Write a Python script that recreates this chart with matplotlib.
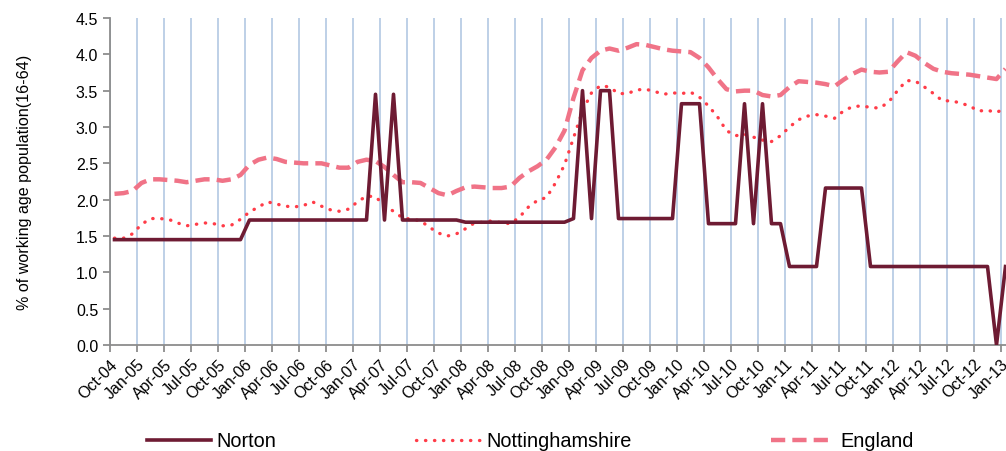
import numpy as np
import matplotlib
matplotlib.use('Agg')
import matplotlib.pyplot as plt

plt.rcParams['font.family'] = ['Liberation Sans', 'DejaVu Sans']

# monthly values, first point is the month after Oct-04 tick
norton = ([1.45] * 15 + [1.72] * 14 + [3.45, 1.72, 3.45] + [1.72] * 7 + [1.69] * 12
          + [1.74, 3.50, 1.74, 3.50, 3.50] + [1.74] * 7 + [3.32] * 3 + [1.67] * 4
          + [3.32, 1.67, 3.32, 1.67, 1.67] + [1.08] * 4 + [2.16] * 5 + [1.08] * 14
          + [0.0, 1.08])

notts = [1.47, 1.47, 1.53, 1.66, 1.74, 1.74, 1.73, 1.68, 1.64, 1.66,
         1.68, 1.67, 1.64, 1.65, 1.73, 1.83, 1.90, 1.97, 1.94, 1.91,
         1.90, 1.92, 1.97, 1.91, 1.86, 1.84, 1.87, 1.97, 2.05, 2.04,
         1.92, 1.84, 1.75, 1.73, 1.71, 1.62, 1.54, 1.50, 1.53, 1.60,
         1.68, 1.69, 1.71, 1.68, 1.67, 1.76, 1.90, 1.99, 2.03, 2.23,
         2.48, 2.85, 3.22, 3.47, 3.57, 3.55, 3.46, 3.46, 3.51, 3.52,
         3.49, 3.45, 3.47, 3.46, 3.48, 3.41, 3.29, 3.14, 2.95, 2.88,
         2.90, 2.86, 2.82, 2.80, 2.88, 3.00, 3.10, 3.15, 3.17, 3.15,
         3.12, 3.22, 3.28, 3.29, 3.27, 3.26, 3.34, 3.50, 3.64, 3.63,
         3.55, 3.46, 3.36, 3.36, 3.33, 3.29, 3.22, 3.23, 3.20, 3.26]

england = [2.08, 2.09, 2.12, 2.23, 2.28, 2.28, 2.27, 2.26, 2.24, 2.26,
           2.28, 2.28, 2.26, 2.28, 2.34, 2.48, 2.55, 2.58, 2.56, 2.52,
           2.51, 2.50, 2.50, 2.50, 2.47, 2.44, 2.44, 2.52, 2.55, 2.53,
           2.45, 2.34, 2.24, 2.24, 2.23, 2.16, 2.09, 2.06, 2.12, 2.17,
           2.18, 2.17, 2.16, 2.16, 2.18, 2.30, 2.39, 2.46, 2.55, 2.72,
           2.95, 3.40, 3.78, 3.95, 4.05, 4.08, 4.05, 4.09, 4.14, 4.13,
           4.10, 4.07, 4.05, 4.04, 4.03, 3.95, 3.82, 3.66, 3.52, 3.49,
           3.50, 3.50, 3.44, 3.42, 3.44, 3.55, 3.63, 3.62, 3.61, 3.59,
           3.56, 3.65, 3.73, 3.79, 3.76, 3.75, 3.76, 3.90, 4.03, 3.98,
           3.88, 3.80, 3.76, 3.74, 3.73, 3.72, 3.70, 3.68, 3.66, 3.80]

tick_labels = ['Oct-04', 'Jan-05', 'Apr-05', 'Jul-05', 'Oct-05', 'Jan-06', 'Apr-06',
               'Jul-06', 'Oct-06', 'Jan-07', 'Apr-07', 'Jul-07', 'Oct-07', 'Jan-08',
               'Apr-08', 'Jul-08', 'Oct-08', 'Jan-09', 'Apr-09', 'Jul-09', 'Oct-09',
               'Jan-10', 'Apr-10', 'Jul-10', 'Oct-10', 'Jan-11', 'Apr-11', 'Jul-11',
               'Oct-11', 'Jan-12', 'Apr-12', 'Jul-12', 'Oct-12', 'Jan-13']

x = np.arange(len(norton))
ticks = np.arange(len(tick_labels)) * 3 - 0.5

fig = plt.figure(figsize=(10.06, 4.52), dpi=100)
ax = fig.add_axes([110 / 1006, 1 - 346 / 452, 900 / 1006, 327 / 452])

l3, = ax.plot(x, england, color='#F07387', lw=3.2, ls=(0, (3.2, 1.6)),
              label='England', zorder=3)
l2, = ax.plot(x, notts, color='#FF3C48', lw=2.4, ls=(0, (0.1, 2.6)),
              dash_capstyle='round', label='Nottinghamshire', zorder=4)
l1, = ax.plot(x, norton, color='#6E1B33', lw=2.6, label='Norton', zorder=5)

ax.set_xlim(-0.5, 99.5)
ax.set_ylim(0, 4.5)
ax.set_yticks(np.arange(0, 4.51, 0.5))
ax.set_yticklabels(['%.1f' % v for v in np.arange(0, 4.51, 0.5)], fontsize=11.5)
ax.set_xticks(ticks)
ax.set_xticklabels(tick_labels, rotation=45, ha='right', rotation_mode='anchor',
                   fontsize=11.5)
ax.grid(axis='x', color='#B9CDE5', lw=1.3, zorder=0)
ax.set_axisbelow(True)

for s in ['top', 'right']:
    ax.spines[s].set_visible(False)
for s in ['left', 'bottom']:
    ax.spines[s].set_color('#8C8C8C')
    ax.spines[s].set_linewidth(1.3)
ax.tick_params(axis='both', direction='out', length=5, width=1.3, color='#8C8C8C')
ax.tick_params(axis='x', pad=3)

ax.set_ylabel('% of working age population(16-64)', fontsize=11.6)
ax.yaxis.set_label_coords(-78 / 900, 0.5)

fig.legend(handles=[l1, l2, l3], loc='center left', bbox_to_anchor=(147 / 1006, 1 - 442 / 452),
           ncol=3, frameon=False, fontsize=14.3, handlelength=3.2, handletextpad=0.3,
           columnspacing=7.05, borderpad=0, borderaxespad=0)

fig.savefig('out.png', dpi=100)
